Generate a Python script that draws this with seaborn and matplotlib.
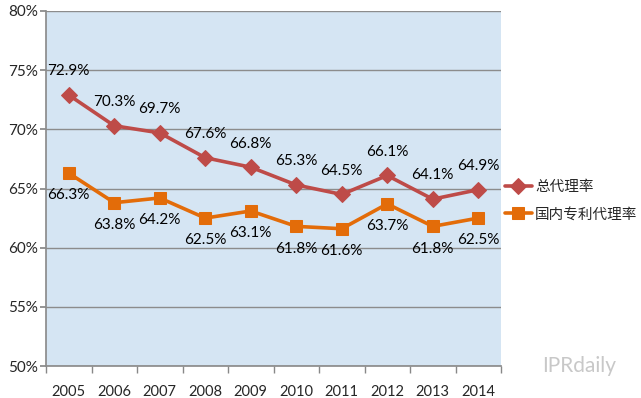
import pandas as pd
import matplotlib.pyplot as plt
import seaborn as sns

# --- data ---
years = ['2005', '2006', '2007', '2008', '2009', '2010', '2011', '2012', '2013', '2014']
total_rate = [72.9, 70.3, 69.7, 67.6, 66.8, 65.3, 64.5, 66.1, 64.1, 64.9]
domestic_rate = [66.3, 63.8, 64.2, 62.5, 63.1, 61.8, 61.6, 63.7, 61.8, 62.5]
series_names = ['总代理率', '国内专利代理率']

RED = '#BE4B48'
ORANGE = '#E36C09'

sns.set_theme(style='white')
plt.rcParams['font.family'] = ['Lato', 'Noto Sans CJK SC', 'DejaVu Sans']

df = pd.DataFrame({
    'idx': list(range(len(years))) * 2,
    'value': total_rate + domestic_rate,
    'series': [series_names[0]] * len(years) + [series_names[1]] * len(years),
})

fig = plt.figure(figsize=(6.41, 3.98), dpi=100)
ax = fig.add_axes([46 / 641, 1 - 366 / 398, 455 / 641, 355 / 398])
ax.set_facecolor('#D5E5F3')

sns.lineplot(data=df[df.series == series_names[0]], x='idx', y='value', ax=ax,
             color=RED, lw=2.6, marker='D', markersize=8, markeredgecolor=RED,
             label=series_names[0])
sns.lineplot(data=df[df.series == series_names[1]], x='idx', y='value', ax=ax,
             color=ORANGE, lw=2.6, marker='s', markersize=9, markeredgecolor=ORANGE,
             label=series_names[1])

# 数据标签
for i, v in enumerate(total_rate):
    ax.annotate(f'{v}%', (i, v), xytext=(0, 12), textcoords='offset points',
                ha='center', va='bottom', fontsize=11, color='black')
for i, v in enumerate(domestic_rate):
    ax.annotate(f'{v}%', (i, v), xytext=(0, -11), textcoords='offset points',
                ha='center', va='top', fontsize=11, color='black')

ax.set_xlim(-0.5, len(years) - 0.5)
ax.set_ylim(50, 80)
ax.set_xticks(range(len(years)))
ax.set_xticklabels(years)
ax.set_xticks([i - 0.5 for i in range(len(years) + 1)], minor=True)
ax.tick_params(axis='x', which='major', length=0, labelsize=10.5, pad=14)
ax.tick_params(axis='x', which='minor', length=5, color='#888888', direction='out', bottom=True)
ax.set_yticks(range(50, 81, 5))
ax.set_yticklabels([f'{t}%' for t in range(50, 81, 5)])
ax.tick_params(axis='y', length=4, color='#888888', labelsize=11, left=True, pad=2)
ax.grid(axis='y', color='#8C8C8C', lw=1)
ax.set_axisbelow(True)
ax.set_xlabel('')
ax.set_ylabel('')
for s in ['top', 'right']:
    ax.spines[s].set_visible(False)
for s in ['left', 'bottom']:
    ax.spines[s].set_color('#8C8C8C')

ax.legend(loc='center left', bbox_to_anchor=(0.995, 0.465), frameon=False,
          fontsize=10.5, handlelength=1.9, handletextpad=0.2, labelspacing=0.9,
          borderaxespad=0.0)

fig.text(542 / 641, 1 - 366 / 398, 'IPRdaily', color='#C8C8C8', fontsize=15,
         ha='left', va='center')

fig.savefig('out.png', dpi=100)
